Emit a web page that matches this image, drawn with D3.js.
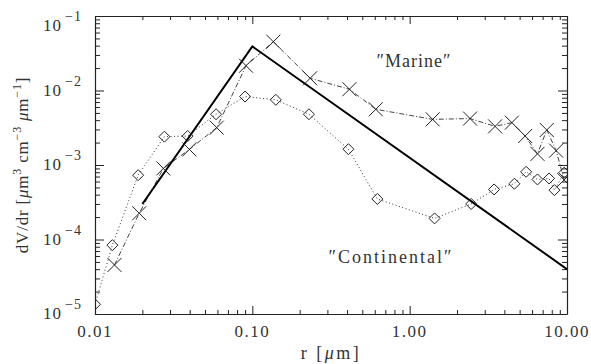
<!DOCTYPE html>
<html>
<head>
<meta charset="utf-8">
<script src="https://cdn.jsdelivr.net/npm/d3@7"></script>
<style>
  body { margin: 0; background: #fff; }
  svg { display: block; }
  text { font-family: "Liberation Serif", "DejaVu Serif", serif; fill: #333; }
</style>
</head>
<body>
<svg class="chart" width="591" height="364"></svg>
<script>
// size distributions
var xTicks = [0.01, 0.1, 1, 10];
var xTickLabels = ["0.01", "0.10", "1.00", "10.00"];
var yTicks = [1e-5, 1e-4, 1e-3, 1e-2, 1e-1];
var yTickExps = ["\u22125", "\u22124", "\u22123", "\u22122", "\u22121"];

// solid power-law model
var modelR = [0.02, 0.1, 10];
var modelV = [3.0e-4, 0.039, 4.0e-5];

// "Marine" (crosses, dash-dot)
var marineR = [0.0133, 0.0191, 0.0272, 0.0398, 0.0594, 0.0912, 0.136, 0.233, 0.414, 0.609,
  1.40, 2.42, 3.49, 4.46, 5.42, 6.49, 7.44, 8.53, 9.59];
var marineV = [4.55e-5, 2.25e-4, 9.0e-4, 1.62e-3, 3.17e-3, 0.0215, 0.0452, 0.0146, 0.0104, 5.6e-3,
  4.1e-3, 4.2e-3, 3.3e-3, 3.7e-3, 2.45e-3, 1.41e-3, 2.95e-3, 1.56e-3, 6.3e-4];

// "Continental" (diamonds, dotted)
var contR = [0.01, 0.0129, 0.0188, 0.0276, 0.0388, 0.0588, 0.0899, 0.141, 0.229, 0.408,
  0.623, 1.44, 2.46, 3.44, 4.63, 5.50, 6.49, 7.69, 8.32, 9.6];
var contV = [1.35e-5, 8.4e-5, 7.3e-4, 2.4e-3, 2.45e-3, 4.8e-3, 8.3e-3, 7.5e-3, 4.8e-3, 1.63e-3,
  3.5e-4, 1.92e-4, 3.0e-4, 4.7e-4, 5.6e-4, 8.1e-4, 6.4e-4, 6.6e-4, 4.6e-4, 7.9e-4];

var svg = d3.select('.chart');
var x0 = 95, x1 = 567, y0 = 16, y1 = 314;

var x = d3.scaleLog().domain([0.01, 10]).range([x0, x1]);
var y = d3.scaleLog().domain([1e-5, 1e-1]).range([y1, y0]);

// minor tick positions 2..9 inside each decade
var minorX = [], minorY = [];
[0.01, 0.1, 1].forEach(function (d) {
  for (var k = 2; k < 10; k++) minorX.push(d * k);
});
[1e-5, 1e-4, 1e-3, 1e-2].forEach(function (d) {
  for (var k = 2; k < 10; k++) minorY.push(d * k);
});

var axisColor = '#222';

function drawAxis(gen, tx, ty, vals, size, keepDomain) {
  var g = svg.append('g')
    .attr('transform', 'translate(' + tx + ',' + ty + ')')
    .call(gen.tickValues(vals).tickSizeInner(size).tickSizeOuter(0).tickFormat(''));
  if (keepDomain) {
    g.select('.domain').attr('stroke', axisColor).attr('stroke-width', 1.2);
  } else {
    g.select('.domain').remove();
  }
  g.selectAll('.tick line').attr('stroke', axisColor).attr('stroke-width', 1);
  return g;
}

// inward ticks on all four sides
drawAxis(d3.axisBottom(x), 0, y1, xTicks, -8, true);
drawAxis(d3.axisBottom(x), 0, y1, minorX, -4);
drawAxis(d3.axisTop(x), 0, y0, xTicks, -8, true);
drawAxis(d3.axisTop(x), 0, y0, minorX, -4);
drawAxis(d3.axisLeft(y), x0, 0, yTicks, -9, true);
drawAxis(d3.axisLeft(y), x0, 0, minorY, -5);
drawAxis(d3.axisRight(y), x1, 0, yTicks, -9, true);
drawAxis(d3.axisRight(y), x1, 0, minorY, -5);

// x tick labels
svg.selectAll('.xlab')
  .data(xTicks)
  .enter()
  .append('text')
  .attr('class', 'xlab')
  .attr('x', function (d) { return x(d); })
  .attr('y', 337)
  .attr('text-anchor', 'middle')
  .attr('font-size', 17)
  .attr('letter-spacing', 1.5)
  .text(function (d, i) { return xTickLabels[i]; });

// y tick labels 10^n
svg.selectAll('.ybase')
  .data(yTicks)
  .enter()
  .append('text')
  .attr('class', 'ybase')
  .attr('x', 62)
  .attr('y', function (d) { return Math.max(y(d) + 5, 31); })
  .attr('text-anchor', 'end')
  .attr('font-size', 17)
  .attr('letter-spacing', 1)
  .text('10');

svg.selectAll('.yexp')
  .data(yTicks)
  .enter()
  .append('text')
  .attr('class', 'yexp')
  .attr('x', 65)
  .attr('y', function (d) { return Math.max(y(d) + 5, 31) - 10; })
  .attr('font-size', 14)
  .attr('letter-spacing', 1)
  .text(function (d, i) { return yTickExps[i]; });

// axis titles
var xt = svg.append('text')
  .attr('x', 331)
  .attr('y', 359)
  .attr('text-anchor', 'middle')
  .attr('font-size', 18)
  .attr('letter-spacing', 2.5);
xt.append('tspan').text('r [');
xt.append('tspan').attr('font-style', 'italic').text('\u03bc');
xt.append('tspan').text('m]');

var yt = svg.append('text')
  .attr('transform', 'translate(28,165) rotate(-90)')
  .attr('text-anchor', 'middle')
  .attr('font-size', 17)
  .attr('letter-spacing', 0.8);
yt.append('tspan').text('dV/dr [');
yt.append('tspan').attr('font-style', 'italic').text('\u03bc');
yt.append('tspan').text('m');
yt.append('tspan').attr('dy', -7).attr('font-size', 12).text('3');
yt.append('tspan').attr('dy', 7).text(' cm');
yt.append('tspan').attr('dy', -7).attr('font-size', 12).text('\u22123');
yt.append('tspan').attr('dy', 7).text(' ');
yt.append('tspan').attr('font-style', 'italic').text('\u03bc');
yt.append('tspan').text('m');
yt.append('tspan').attr('dy', -7).attr('font-size', 12).text('\u22121');
yt.append('tspan').attr('dy', 7).text(']');

// data layer, clipped to the plot box
svg.append('clipPath').attr('id', 'plotclip')
  .append('rect')
  .attr('x', x0).attr('y', y0)
  .attr('width', x1 - x0).attr('height', y1 - y0);
var plot = svg.append('g').attr('clip-path', 'url(#plotclip)');

var line = d3.line()
  .x(function (d) { return x(d[0]); })
  .y(function (d) { return y(d[1]); });

var model = d3.zip(modelR, modelV);
var marine = d3.zip(marineR, marineV);
var cont = d3.zip(contR, contV);

plot.append('path')
  .datum(cont)
  .attr('d', line)
  .attr('fill', 'none')
  .attr('stroke', '#333')
  .attr('stroke-width', 1)
  .attr('stroke-dasharray', '1,2.5');

plot.append('path')
  .datum(marine)
  .attr('d', line)
  .attr('fill', 'none')
  .attr('stroke', '#444')
  .attr('stroke-width', 1)
  .attr('stroke-dasharray', '5,2,1,2');

plot.append('path')
  .datum(model)
  .attr('d', line)
  .attr('fill', 'none')
  .attr('stroke', '#000')
  .attr('stroke-width', 2);

// diamonds
plot.selectAll('.diamond')
  .data(cont)
  .enter()
  .append('path')
  .attr('class', 'diamond')
  .attr('d', 'M0,-5.5L5.5,0L0,5.5L-5.5,0Z')
  .attr('transform', function (d) { return 'translate(' + x(d[0]) + ',' + y(d[1]) + ')'; })
  .attr('fill', 'none')
  .attr('stroke', '#222')
  .attr('stroke-width', 1);

// crosses
plot.selectAll('.cross')
  .data(marine)
  .enter()
  .append('path')
  .attr('class', 'cross')
  .attr('d', 'M-7,-7L7,7M-7,7L7,-7')
  .attr('transform', function (d) { return 'translate(' + x(d[0]) + ',' + y(d[1]) + ')'; })
  .attr('fill', 'none')
  .attr('stroke', '#222')
  .attr('stroke-width', 1);

// region labels
svg.append('text')
  .attr('x', 414).attr('y', 67)
  .attr('text-anchor', 'middle')
  .attr('font-size', 18)
  .attr('letter-spacing', 1)
  .text('\u2033Marine\u2033');

svg.append('text')
  .attr('x', 391).attr('y', 263)
  .attr('text-anchor', 'middle')
  .attr('font-size', 18)
  .attr('letter-spacing', 2)
  .text('\u2033Continental\u2033');
</script>
</body>
</html>
